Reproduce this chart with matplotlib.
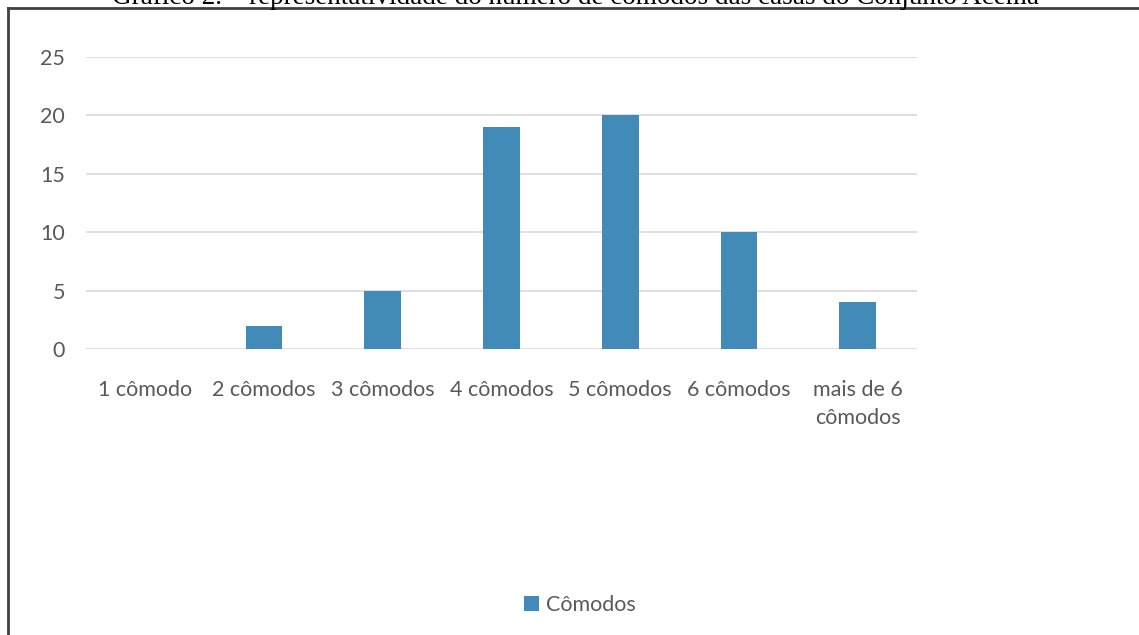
import matplotlib
matplotlib.use("Agg")
import matplotlib.pyplot as plt
from matplotlib.lines import Line2D
from matplotlib.patches import Patch

# Dados do gráfico
categorias = ["1 cômodo", "2 cômodos", "3 cômodos", "4 cômodos", "5 cômodos",
              "6 cômodos", "mais de 6\ncômodos"]
valores = [0, 2, 5, 19, 20, 10, 4]
serie = "Cômodos"
titulo = "Gráfico 2. – representatividade do número de cômodos das casas do Conjunto Acema"

cor_barra = "#428AB7"
cor_texto = "#595959"
fonte = "Lato"
tam = 15.5

fig = plt.figure(figsize=(11.39, 6.35), dpi=100)
W, H = 1139, 635

# Eixo do gráfico
ax = fig.add_axes([86 / W, 1 - 349 / H, (917 - 86) / W, (349 - 57) / H])
x = range(len(categorias))
ax.bar(x, valores, width=0.31, color=cor_barra, zorder=3)

ax.set_xlim(-0.5, len(categorias) - 0.5)
ax.set_ylim(0, 25)
ax.set_yticks([0, 5, 10, 15, 20, 25])
ax.set_xticks(list(x))
ax.set_xticklabels(categorias, fontfamily=fonte, fontsize=tam, color=cor_texto,
                   linespacing=1.5)
for lab in ax.get_yticklabels():
    lab.set_fontfamily(fonte)
    lab.set_fontsize(tam)
    lab.set_color(cor_texto)

ax.grid(axis="y", color="#D9D9D9", linewidth=1.2, zorder=0)
ax.tick_params(axis="both", length=0)
ax.tick_params(axis="x", pad=22)
ax.tick_params(axis="y", pad=15)
for s in ax.spines.values():
    s.set_visible(False)

# Legenda
handle = Patch(facecolor=cor_barra, edgecolor="none")
fig.legend([handle], [serie], loc="center", bbox_to_anchor=(580 / W, 1 - 605 / H),
           frameon=False, handlelength=0.7, handleheight=0.7, handletextpad=0.3,
           prop={"family": fonte, "size": tam}, labelcolor=cor_texto)

# Moldura (topo e lado esquerdo)
fig.add_artist(Line2D([8 / W, 1], [1 - 8 / H, 1 - 8 / H], transform=fig.transFigure,
                      color="#404040", linewidth=2))
fig.add_artist(Line2D([8 / W, 8 / W], [0, 1 - 8 / H], transform=fig.transFigure,
                      color="#404040", linewidth=2))

# Título cortado no topo
fig.text(576 / W, 1 - 4 / H, titulo, ha="center", va="baseline",
         fontfamily="Liberation Serif", fontsize=19.5, color="black")

fig.savefig("out.png", dpi=100, facecolor="white")
